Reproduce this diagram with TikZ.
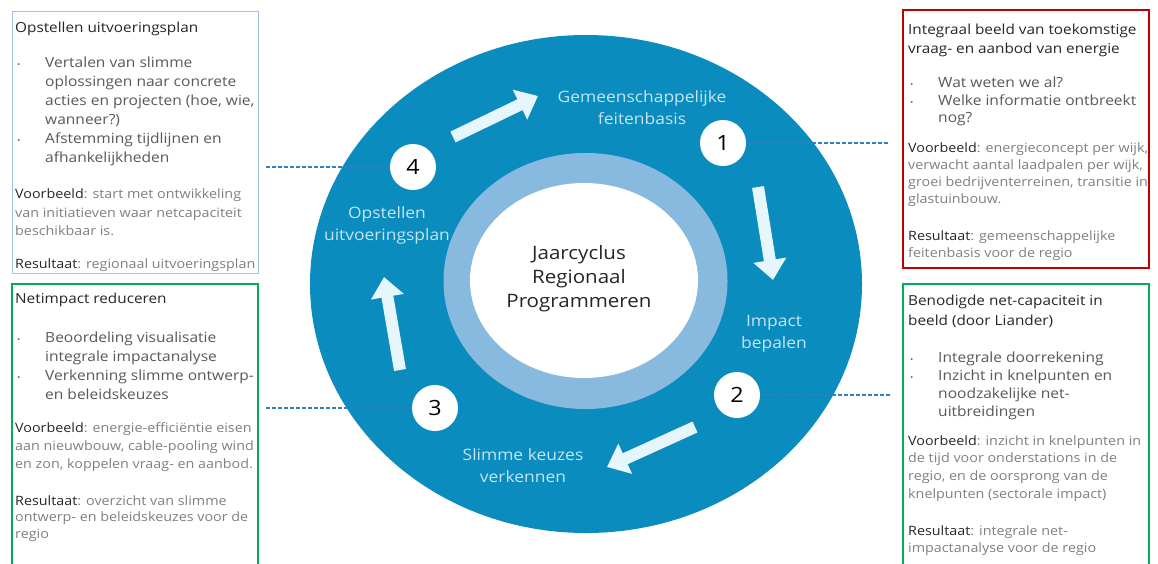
\documentclass[tikz,border=0pt]{standalone}
\usepackage{fontspec}
\setmainfont{Open Sans}[FakeStretch=1.11]
\usetikzlibrary{arrows.meta}
\definecolor{ringblue}{HTML}{0B8CBF}
\definecolor{lightring}{HTML}{88BADF}
\definecolor{arrowc}{HTML}{E6F6FD}
\definecolor{ringtxt}{HTML}{C4E4F2}
\definecolor{dashc}{HTML}{2F7FC1}
\definecolor{bulblue}{HTML}{2E75B6}
\definecolor{tlborder}{HTML}{9DC3E6}
\definecolor{gborder}{HTML}{00B050}
\definecolor{rborder}{HTML}{C00000}
\definecolor{hdc}{HTML}{262626}
\definecolor{bulc}{HTML}{595959}
\definecolor{bodyc}{HTML}{808080}
\newcommand\bu{\makebox[30pt][l]{\hspace*{2pt}\textcolor{bulblue}{\fontsize{8}{8}\selectfont\textbullet}}}
\newcommand\ii{\hspace*{30pt}}
\newcommand\vb[1]{\textcolor{hdc}{#1}}
\newcommand\tb[1]{\begin{tabular}[t]{@{}l@{}}#1\end{tabular}}
\begin{document}
\begin{tikzpicture}[x=1pt,y=-1pt,
  hd/.style={anchor=base west, inner sep=0, text=hdc, font=\fontsize{13.8}{19}\selectfont},
  bl/.style={anchor=base west, inner sep=0, text=bulc, font=\fontsize{14}{19}\selectfont},
  bd/.style={anchor=base west, inner sep=0, text=bodyc, font=\fontsize{12.9}{18}\selectfont},
  ringlabel/.style={align=center, inner sep=0, text=ringtxt, font=\fontsize{15.7}{22}\selectfont},
  numc/.style={circle, fill=white, minimum size=46pt, inner sep=0, text=black, font=\fontsize{21}{21}\selectfont},
  flow/.style={draw=arrowc, line width=12pt, -{Triangle[width=32pt,length=20pt]}},
  dashln/.style={draw=dashc, dash pattern=on 4pt off 2pt, line width=1.3pt},
  boxline/.style={line width=2.8pt}]
\path[use as bounding box] (0,0) rectangle (1158,564);
\fill[white] (0,0) rectangle (1158,564);

% rings
\fill[ringblue] (586,284) ellipse [x radius=276pt, y radius=249pt];
\fill[lightring] (585.5,281) ellipse [x radius=142pt, y radius=128pt];
\fill[white] (584,280.5) ellipse [x radius=114pt, y radius=97.5pt];
\node[align=center, inner sep=0, text=hdc, font=\fontsize{18.5}{24}\selectfont] (center) at (579,278.5) {Jaarcyclus\\Regionaal\\Programmeren};

% ring labels
\node[ringlabel] (lgem) at (642,108) {Gemeenschappelijke\\feitenbasis};
\node[ringlabel] (limp) at (774,334) {Impact\\bepalen};
\node[ringlabel] (lsli) at (523,466) {Slimme keuzes\\verkennen};
\node[ringlabel] (lops) at (387,225) {Opstellen\\uitvoeringsplan};

% flow arrows
\coordinate (a1s) at (453,137); \coordinate (a1e) at (538,96);
\coordinate (a2s) at (758,187); \coordinate (a2e) at (773,280);
\coordinate (a3s) at (695,427); \coordinate (a3e) at (607,467);
\coordinate (a4s) at (400,370); \coordinate (a4e) at (384,277);
\draw[flow] (a1s) -- (a1e);
\draw[flow] (a2s) -- (a2e);
\draw[flow] (a3s) -- (a3e);
\draw[flow] (a4s) -- (a4e);

% dashed connectors
\coordinate (d4) at (266,167);
\coordinate (d3) at (266,408);
\coordinate (d1) at (890,143);
\coordinate (d2) at (890,395);
\node[numc] (n1) at (723,143) {1};
\node[numc] (n2) at (737,395) {2};
\node[numc] (n3) at (435,408) {3};
\node[numc] (n4) at (413,167) {4};
\draw[dashln] (d4) -- (n4);
\draw[dashln] (d3) -- (n3);
\draw[dashln] (n1) -- (d1);
\draw[dashln] (n2) -- (d2);

% boxes
\draw[tlborder, line width=1pt] (12,12) rectangle (258,273);
\draw[gborder, boxline] (12,284) rectangle (258,570);
\draw[rborder, boxline] (903,10) rectangle (1149,268);
\draw[gborder, boxline] (903,284) rectangle (1149,570);

% top-left box
\node[hd] (tlh) at (15,33) {\tb{Opstellen uitvoeringsplan}};
\node[bl] (tlb) at (15,68) {\tb{\bu Vertalen van slimme\\\ii oplossingen naar concrete\\\ii acties en projecten (hoe, wie,\\\ii wanneer?)\\\bu Afstemming tijdlijnen en\\\ii afhankelijkheden}};
\node[bd, font=\fontsize{12.9}{18.5}\selectfont] (tlv) at (15,198.5) {\tb{\vb{Voorbeeld}: start met ontwikkeling\\van initiatieven waar netcapaciteit\\beschikbaar is.}};
\node[bd] (tlr) at (15,268) {\tb{\vb{Resultaat}: regionaal uitvoeringsplan}};

% bottom-left box
\node[hd] (blh) at (15,303) {\tb{Netimpact reduceren}};
\node[bl] (blb) at (15,342) {\tb{\bu Beoordeling visualisatie\\\ii integrale impactanalyse\\\bu Verkenning slimme ontwerp-\\\ii en beleidskeuzes}};
\node[bd] (blv) at (15,432) {\tb{\vb{Voorbeeld}: energie-efficiëntie eisen\\aan nieuwbouw, cable-pooling wind\\en zon, koppelen vraag- en aanbod.}};
\node[bd, font=\fontsize{12.9}{16.5}\selectfont] (blr) at (15,505) {\tb{\vb{Resultaat}: overzicht van slimme\\ontwerp- en beleidskeuzes voor de\\regio}};

% top-right box
\node[hd] (trh) at (908,35) {\tb{Integraal beeld van toekomstige\\vraag- en aanbod van energie}};
\node[bl, font=\fontsize{14}{17.5}\selectfont] (trb) at (908,88) {\tb{\bu Wat weten we al?\\\bu Welke informatie ontbreekt\\\ii nog?}};
\node[bd, font=\fontsize{12.9}{17}\selectfont] (trv) at (908,152.5) {\tb{\vb{Voorbeeld}: energieconcept per wijk,\\verwacht aantal laadpalen per wijk,\\groei bedrijventerreinen, transitie in\\glastuinbouw.}};
\node[bd, font=\fontsize{12.9}{17}\selectfont] (trr) at (908,240.5) {\tb{\vb{Resultaat}: gemeenschappelijke\\feitenbasis voor de regio}};

% bottom-right box
\node[hd, font=\fontsize{13.8}{20}\selectfont] (brh) at (908,305) {\tb{Benodigde net-capaciteit in\\beeld (door Liander)}};
\node[bl, font=\fontsize{14}{18.3}\selectfont] (brb) at (908,362) {\tb{\bu Integrale doorrekening\\\bu Inzicht in knelpunten en\\\ii noodzakelijke net-\\\ii uitbreidingen}};
\node[bd, font=\fontsize{12.9}{17.7}\selectfont] (brv) at (908,445) {\tb{\vb{Voorbeeld}: inzicht in knelpunten in\\de tijd voor onderstations in de\\regio, en de oorsprong van de\\knelpunten (sectorale impact)}};
\node[bd, font=\fontsize{12.9}{17}\selectfont] (brr) at (908,535) {\tb{\vb{Resultaat}: integrale net-\\impactanalyse voor de regio}};
\end{tikzpicture}
\end{document}
